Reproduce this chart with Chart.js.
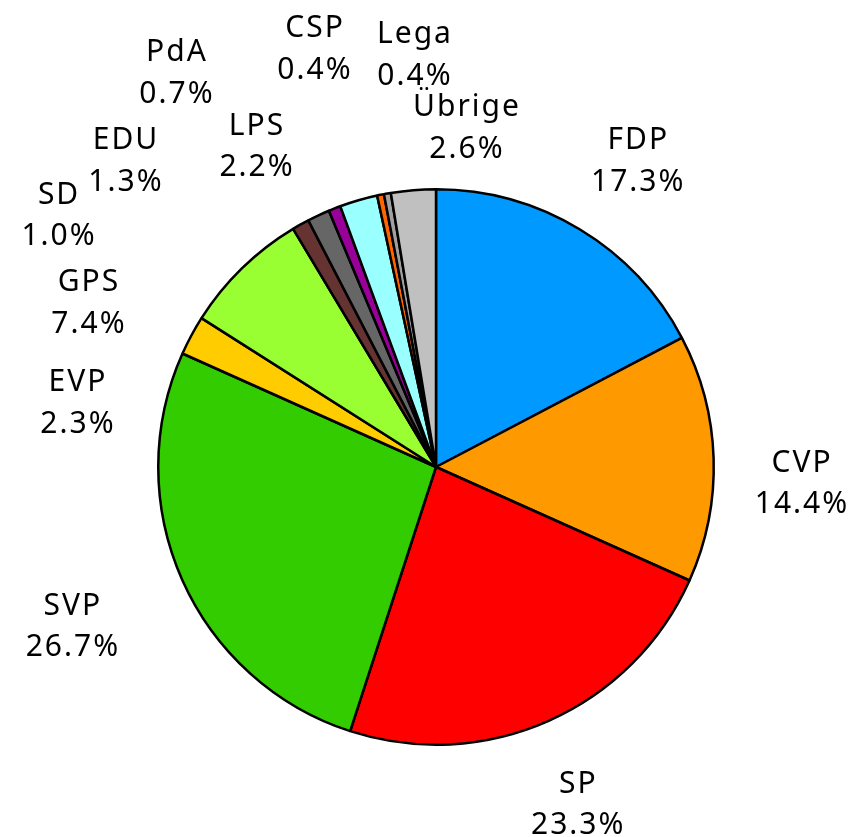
<!DOCTYPE html>
<html lang="de">
<head>
    <meta charset="UTF-8">
    <title>Parteistärken</title>
    <script src="https://cdn.jsdelivr.net/npm/chart.js"></script>
    <style>
        html, body {
            margin: 0;
            padding: 0;
            background: #fff;
        }
        .chart-container {
            width: 852px;
            height: 837px;
        }
    </style>
</head>
<body>
    <div class="chart-container">
        <canvas id="partyChart"></canvas>
    </div>
    <script>
        const parties = ['FDP', 'CVP', 'SP', 'SVP', 'EVP', 'GPS', 'SD', 'EDU', 'PdA', 'LPS', 'CSP', 'Lega', 'Übrige'];
        const shares = [17.3, 14.4, 23.3, 26.7, 2.3, 7.4, 1.0, 1.3, 0.7, 2.2, 0.4, 0.4, 2.6];
        const sliceColors = ['#0099FF', '#FF9900', '#FF0000', '#33CC00', '#FFCC00', '#99FF33',
            '#663333', '#666666', '#990099', '#99FFFF', '#FF6600', '#A0A0A0', '#C0C0C0'];

        // label placement: angle in degrees clockwise from top, distance as multiple of the radius
        const labelPlacement = [
            [33.2, 1.322], [92.35, 1.314], [157.2, 1.311], [246.6, 1.427], [280.4, 1.313], [295.5, 1.387],
            [303.8, 1.636], [314.7, 1.574], [326.7, 1.704], [330.8, 1.327], [343.8, 1.573], [356.95, 1.49], [5.03, 1.23]
        ];

        const outsideLabels = {
            id: 'outsideLabels',
            afterDatasetsDraw(chart) {
                const ctx = chart.ctx;
                const meta = chart.getDatasetMeta(0);
                ctx.save();
                ctx.font = '30px "Noto Sans", sans-serif';
                ctx.letterSpacing = '2px';
                ctx.fillStyle = '#000';
                ctx.textAlign = 'center';
                ctx.textBaseline = 'alphabetic';
                meta.data.forEach((arc, i) => {
                    const [deg, k] = labelPlacement[i];
                    const a = deg * Math.PI / 180;
                    const d = 278 * k;
                    const x = arc.x + d * Math.sin(a) + 1;
                    const y = arc.y - d * Math.cos(a);
                    ctx.fillText(parties[i], x, y - 10);
                    ctx.fillText(shares[i].toFixed(1) + '%', x, y + 31.5);
                });
                ctx.restore();
            }
        };

        new Chart(document.getElementById('partyChart'), {
            type: 'pie',
            data: {
                labels: parties,
                datasets: [{
                    data: shares,
                    backgroundColor: sliceColors,
                    borderColor: '#000',
                    borderWidth: 2.5
                }]
            },
            options: {
                responsive: true,
                maintainAspectRatio: false,
                animation: false,
                layout: {
                    padding: { left: 157, right: 137, top: 188, bottom: 91 }
                },
                plugins: {
                    legend: { display: false },
                    tooltip: { enabled: false }
                }
            },
            plugins: [outsideLabels]
        });
    </script>
</body>
</html>
